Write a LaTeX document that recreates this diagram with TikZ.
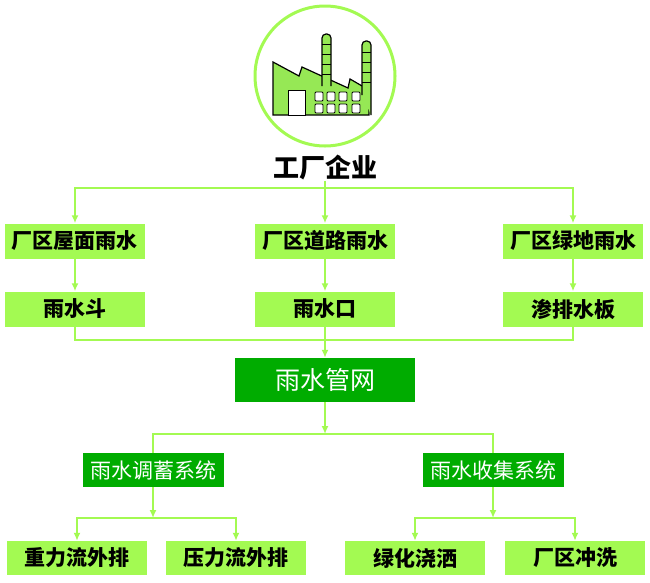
\documentclass[tikz,border=0pt]{standalone}
\usepackage{fontspec}
\newfontfamily\cjk{Noto Sans CJK SC}
\usetikzlibrary{arrows.meta}
\definecolor{lg}{RGB}{163,250,82}
\definecolor{dg}{RGB}{0,172,0}
\definecolor{fg}{RGB}{150,232,85}
\begin{document}
\begin{tikzpicture}[x=1pt,y=-1pt,
  line/.style={draw=lg,line width=1.6pt},
  arr/.style={line,-{Latex[length=8pt,width=7pt]}},
  lbox/.style={fill=lg,minimum width=140pt,minimum height=35pt,inner sep=0pt,font=\cjk\bfseries\fontsize{21}{21}\selectfont},
  dbox/.style={fill=dg,text=white,minimum width=141pt,minimum height=34pt,inner sep=0pt,font=\cjk\fontsize{21}{21}\selectfont}]
\useasboundingbox (0,0) rectangle (650,582);
% factory
\draw [lg,line width=3pt] (325,76) circle (70);
\draw [fill=fg,line width=1.2pt] (273,115) -- (273,62) -- (299,76) -- (302,67) -- (348,88) -- (350,79) -- (369,90) -- (369,115) -- cycle;
\draw [fill=fg,line width=1.2pt,rounded corners=4pt] (322,86) -- (322,34) -- (331,34) -- (331,86);
\draw [fill=fg,line width=1.2pt,rounded corners=4pt] (362,95) -- (362,41) -- (371,41) -- (371,115);
\foreach \y in {44,54,64,74} \draw [line width=.8pt] (322,\y) -- (331,\y);
\foreach \y in {52,62,72,82} \draw [line width=.8pt] (362,\y) -- (371,\y);
\draw [fill=white,line width=.8pt] (288,90) rectangle (305,115);
\foreach \x in {315,327,339,352} {
  \draw [fill=white,line width=.8pt,rounded corners=1pt] (\x,92) rectangle ++(8,9);
  \draw [fill=white,line width=.8pt,rounded corners=1pt] (\x,104) rectangle ++(8,9);
}
\node [inner sep=0pt,font=\cjk\bfseries\fontsize{26}{26}\selectfont] (title) at (325,168) {工厂企业};
% boxes
\node [lbox] (roof) at (75,241) {厂区屋面雨水};
\node [lbox] (road) at (325,241) {厂区道路雨水};
\node [lbox] (green) at (573,241) {厂区绿地雨水};
\node [lbox] (hopper) at (75,309) {雨水斗};
\node [lbox] (inlet) at (325,309) {雨水口};
\node [lbox] (board) at (573,309) {渗排水板};
\node [dbox,minimum width=180pt,minimum height=44pt,font=\cjk\fontsize{25}{25}\selectfont] (pipe) at (325,380) {雨水管网};
\node [dbox] (store) at (153,470) {雨水调蓄系统};
\node [dbox] (collect) at (493,470) {雨水收集系统};
\node [lbox,minimum height=34pt] (grav) at (77,558) {重力流外排};
\node [lbox,minimum height=34pt] (press) at (236,558) {压力流外排};
\node [lbox,minimum height=34pt] (irrig) at (415,558) {绿化浇洒};
\node [lbox,minimum height=34pt] (wash) at (575,558) {厂区冲洗};
% connectors
\coordinate (top) at (325,188);
\coordinate (mid) at (325,340);
\coordinate (split) at (325,434);
\coordinate (splitl) at (153,518);
\coordinate (splitr) at (493,518);
\draw [line] (title) -- (top);
\draw [arr] (top) -| (roof);
\draw [arr] (top) -- (road);
\draw [arr] (top) -| (green);
\draw [arr] (roof) -- (hopper);
\draw [arr] (road) -- (inlet);
\draw [arr] (green) -- (board);
\draw [line] (hopper) |- (mid);
\draw [line] (board) |- (mid);
\draw [arr] (inlet) -- (pipe);
\draw [arr] (pipe) -- (split);
\draw [line] (split) -| (store);
\draw [line] (split) -| (collect);
\draw [arr] (store) -- (splitl);
\draw [arr] (collect) -- (splitr);
\draw [arr] (splitl) -| (grav);
\draw [arr] (splitl) -| (press);
\draw [arr] (splitr) -| (irrig);
\draw [arr] (splitr) -| (wash);
\end{tikzpicture}
\end{document}
